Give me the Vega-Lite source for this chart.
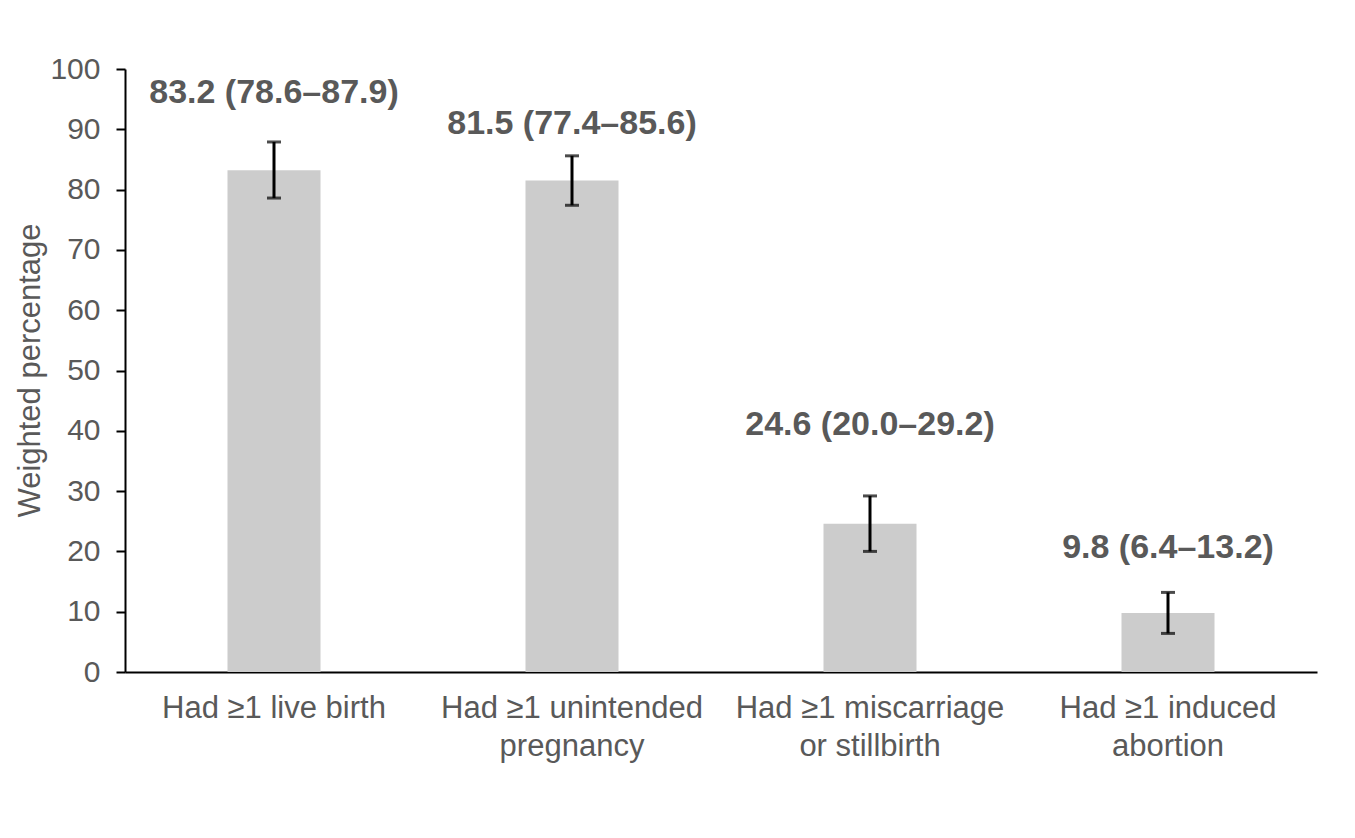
{
  "$schema": "https://vega.github.io/schema/vega-lite/v6.json",
  "autosize": {"type": "none"},
  "width": 1192,
  "height": 603,
  "padding": {"left": 125, "top": 69, "right": 38, "bottom": 166},
  "background": "white",
  "config": {
    "view": {"stroke": null},
    "font": "Liberation Sans",
    "axis": {"grid": false, "domainColor": "#000000", "domainWidth": 2, "tickColor": "#000000", "tickWidth": 2, "labelColor": "#595959", "titleColor": "#595959", "labelFont": "Liberation Sans", "titleFont": "Liberation Sans"}
  },
  "data": {
    "values": [
      {"cat": "Had ≥1 live birth", "pct": 83.2, "lower": 78.6, "upper": 87.9, "label": "83.2 (78.6–87.9)", "label_y": 96.0},
      {"cat": "Had ≥1 unintended|pregnancy", "pct": 81.5, "lower": 77.4, "upper": 85.6, "label": "81.5 (77.4–85.6)", "label_y": 90.8},
      {"cat": "Had ≥1 miscarriage|or stillbirth", "pct": 24.6, "lower": 20.0, "upper": 29.2, "label": "24.6 (20.0–29.2)", "label_y": 41.0},
      {"cat": "Had ≥1 induced|abortion", "pct": 9.8, "lower": 6.4, "upper": 13.2, "label": "9.8 (6.4–13.2)", "label_y": 20.5}
    ]
  },
  "encoding": {
    "x": {
      "field": "cat", "type": "nominal", "sort": null,
      "scale": {"paddingInner": 0, "paddingOuter": 0},
      "axis": {"title": null, "labelAngle": 0, "ticks": false, "labelPadding": 21, "labelFontSize": 31, "labelLineHeight": 38, "labelExpr": "split(datum.label, '|')", "labelLimit": 400}
    }
  },
  "layer": [
    {
      "mark": {"type": "bar", "width": 93, "color": "#cccccc"},
      "encoding": {
        "y": {
          "field": "pct", "type": "quantitative",
          "scale": {"domain": [0, 100], "nice": false},
          "axis": {"title": "Weighted percentage", "values": [0,10,20,30,40,50,60,70,80,90,100], "tickSize": 9, "labelPadding": 16, "labelFontSize": 30, "titleFontSize": 31, "titleFontWeight": "normal", "titleX": -95, "titleY": 301, "titleAngle": -90, "titleAlign": "center", "titleBaseline": "middle"}
        }
      }
    },
    {
      "mark": {"type": "rule", "color": "#000000", "strokeWidth": 3},
      "encoding": {
        "y": {"field": "lower", "type": "quantitative"},
        "y2": {"field": "upper"}
      }
    },
    {
      "mark": {"type": "tick", "color": "#000000", "thickness": 3, "size": 14},
      "encoding": {"y": {"field": "lower", "type": "quantitative"}}
    },
    {
      "mark": {"type": "tick", "color": "#000000", "thickness": 3, "size": 14},
      "encoding": {"y": {"field": "upper", "type": "quantitative"}}
    },
    {
      "mark": {"type": "text", "font": "Liberation Sans", "fontWeight": "bold", "fontSize": 34, "color": "#595959", "baseline": "middle", "align": "center"},
      "encoding": {
        "y": {"field": "label_y", "type": "quantitative"},
        "text": {"field": "label"}
      }
    }
  ]
}
